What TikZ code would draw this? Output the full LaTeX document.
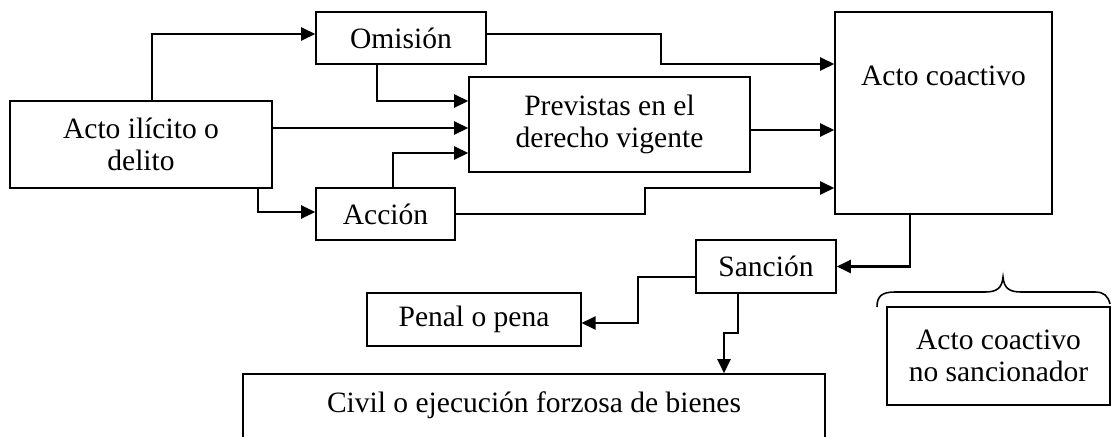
\documentclass[tikz,border=0pt]{standalone}
\usepackage{fontspec}
\setmainfont{Liberation Serif}
\usetikzlibrary{arrows.meta}

\begin{document}
\begin{tikzpicture}
	[x=0.02cm, y=-0.02cm,
	 every node/.style={font=\fontsize{16.8pt}{18.5pt}\selectfont},
	 box/.style={draw, line width=0.9pt, inner sep=0pt, align=center},
	 conn/.style={line width=1.2pt, -{Triangle[length=0.28cm,width=0.26cm]}}]
   \useasboundingbox (0,0) rectangle (1111,436);
   % boxes
   \node[box, minimum width=5.25cm, minimum height=1.74cm] (ilicito) at (141,144.5) {Acto ilícito o\\delito};
   \node[box, minimum width=3.4cm, minimum height=1.04cm] (omision) at (401,38) {Omisión};
   \node[box, minimum width=5.62cm, minimum height=1.9cm] (previstas) at (609.5,124.5) {Previstas en el\\derecho vigente};
   \node[box, minimum width=2.78cm, minimum height=1.04cm] (accion) at (385.5,214) {Acción};
   \node[box, minimum width=4.34cm, minimum height=4.04cm] (coactivo) at (943.5,113) {};
   \node[anchor=base] (coactivotxt) at (943.5,85) {Acto coactivo};
   \node[box, minimum width=2.8cm, minimum height=1.06cm] (sancion) at (766,266.5) {Sanción};
   \node[box, minimum width=4.27cm, minimum height=1.06cm] (penal) at (474,319.5) {Penal o pena};
   \node[box, minimum width=11.64cm, minimum height=1.92cm] (civil) at (534,422) {};
   \node[anchor=base] (civiltxt) at (534,412) {Civil o ejecución forzosa de bienes};
   \node[box, minimum width=4.46cm, minimum height=1.96cm] (nosanc) at (998.5,356) {Acto coactivo\\no sancionador};
   % connectors
   \draw[conn] (152,0 |- ilicito.north) |- (omision.west |- 0,34);
   \draw[conn] (377,0 |- omision.south) |- (previstas.west |- 0,101);
   \draw[conn] (ilicito.east |- 0,128) -- (previstas.west |- 0,128);
   \draw[conn] (393,0 |- accion.north) |- (previstas.west |- 0,153);
   \draw[conn] (258,0 |- ilicito.south) |- (accion.west |- 0,212);
   \draw[conn] (omision.east |- 0,34) -| (661,64) -- (coactivo.west |- 0,64);
   \draw[conn] (previstas.east |- 0,130) -- (coactivo.west |- 0,130);
   \draw[conn] (accion.east) -| (645,188) -- (coactivo.west |- 0,188);
   \draw[conn] (910,0 |- coactivo.south) |- (sancion.east);
   \draw[conn] (sancion.west |- 0,277) -| (638,323) -- (penal.east |- 0,323);
   \draw[conn] (738,0 |- sancion.south) -- (738,333) -| (724,0 |- civil.north);
   % brace
   \draw[line width=0.9pt] (877,307) .. controls (877,296) and (882,292) .. (895,292) -- (985,292)
      .. controls (997,292) and (1002,288) .. (1003,277)
      .. controls (1004,288) and (1009,292) .. (1021,292) -- (1095,292)
      .. controls (1104,292) and (1108,296) .. (1110,304);
\end{tikzpicture}
\end{document}
